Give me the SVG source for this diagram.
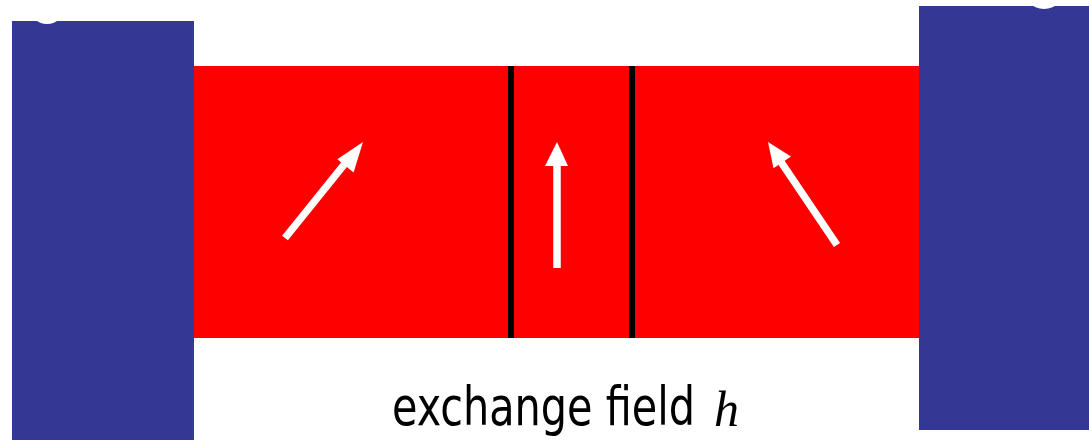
<svg xmlns="http://www.w3.org/2000/svg" width="1089" height="440" viewBox="0 0 1089 440">
<style>
.lead{fill:#353795}
.wire{fill:#ff0000}
.wall{stroke:#000;stroke-width:6}
.spin{stroke:#fff;stroke-width:7.5;fill:none}
.head{fill:#fff}
.lbl{font-family:"DejaVu Sans Condensed","DejaVu Sans",sans-serif;font-size:40px;fill:#000}
</style>
<rect width="1089" height="440" fill="#fff"/>
<g id="left-lead"><rect class="lead" x="12" y="21" width="182" height="419"/><circle cx="47" cy="6" r="18" fill="#fff"/></g>
<g id="right-lead"><rect class="lead" x="919" y="6" width="170" height="424"/><circle cx="1044" cy="-13" r="22" fill="#fff"/></g>
<g id="ferromagnet"><rect class="wire" x="194" y="66" width="725" height="272"/></g>
<g id="walls"><line class="wall" x1="511" y1="66" x2="511" y2="338"/><line class="wall" x1="632" y1="66" x2="632" y2="338"/></g>
<g id="spins">
<g id="spin-left"><line class="spin" x1="285" y1="238" x2="347" y2="161"/><polygon class="head" points="363,142 353.6,172.4 337.3,159.2"/></g>
<g id="spin-mid"><line class="spin" x1="557" y1="268" x2="557" y2="160"/><polygon class="head" points="557,142 568,166 545,166"/></g>
<g id="spin-right"><line class="spin" x1="837" y1="245" x2="781" y2="162"/><polygon class="head" points="768,142 791,156.5 773.5,168.3"/></g>
</g>
<g id="label"><text class="lbl" transform="translate(392,425) scale(1,1.35)" x="0" y="0" textLength="303" lengthAdjust="spacingAndGlyphs">exchange field</text><text x="714" y="426" font-family="'Liberation Serif',serif" font-style="italic" font-size="50">h</text></g>
</svg>
